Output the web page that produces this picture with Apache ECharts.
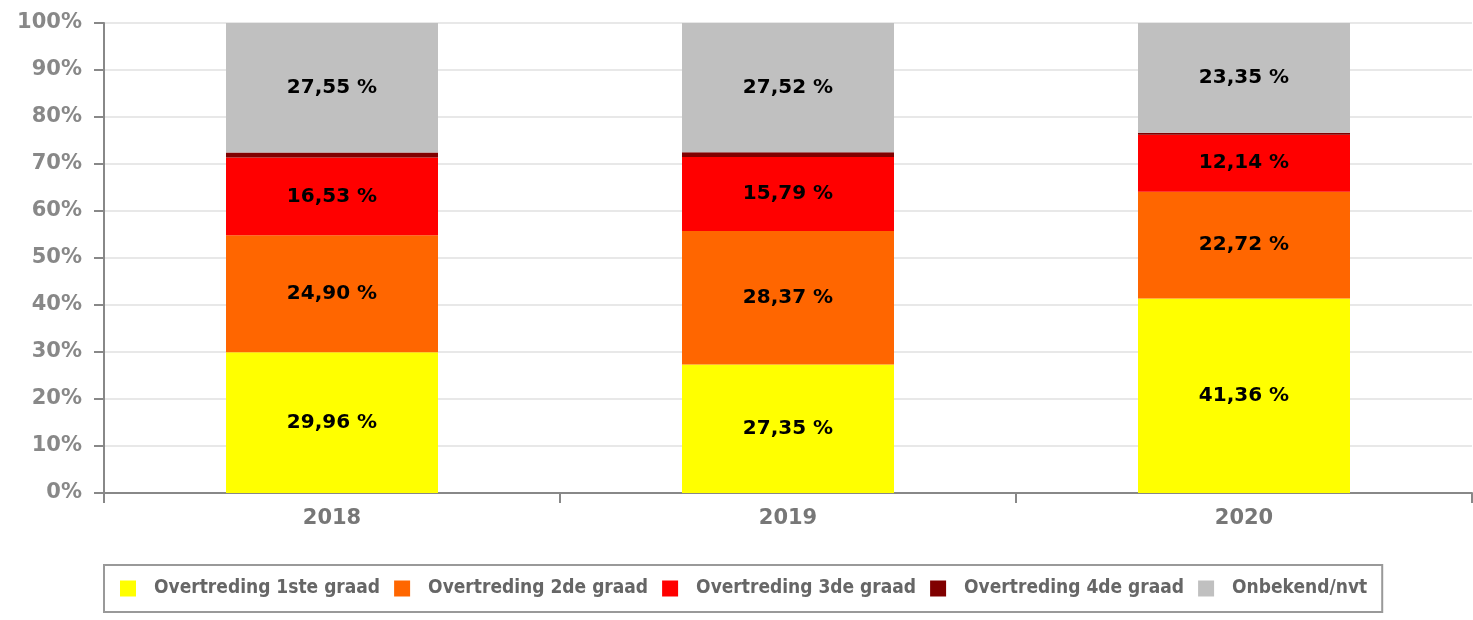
<!DOCTYPE html>
<html>
<head>
<meta charset="utf-8">
<script src="https://cdn.jsdelivr.net/npm/echarts@6/dist/echarts.min.js"></script>
<style>
  html, body { margin: 0; padding: 0; background: #fff; }
  #chart { width: 1473px; height: 620px; }
</style>
</head>
<body>
<div id="chart"></div>
<script>
// jaren en percentages per graad
const years = ["2018", "2019", "2020"];
const graad1 = [29.96, 27.35, 41.36];
const graad2 = [24.90, 28.37, 22.72];
const graad3 = [16.53, 15.79, 12.14];
const graad4 = [1.06, 0.97, 0.43];
const onbekend = [27.55, 27.52, 23.35];

const seriesNames = ["Overtreding 1ste graad", "Overtreding 2de graad", "Overtreding 3de graad", "Overtreding 4de graad", "Onbekend/nvt"];
const seriesColors = ["#ffff00", "#ff6600", "#ff0000", "#800000", "#c0c0c0"];

const chart = echarts.init(document.getElementById("chart"));

function pct(p) {
    return p.value.toFixed(2).replace(".", ",") + " %";
}

const valueSets = [graad1, graad2, graad3, graad4, onbekend];

chart.setOption({
    animation: false,
    grid: { left: 104, right: 1, top: 23, bottom: 127 },
    xAxis: {
        type: "category",
        data: years,
        axisLine: { lineStyle: { color: "#888", width: 2 } },
        axisTick: { show: true, length: 10, lineStyle: { color: "#888", width: 2 } },
        axisLabel: { color: "#777", fontFamily: "DejaVu Sans", fontWeight: "bold", fontSize: 21, margin: 15 }
    },
    yAxis: {
        type: "value",
        min: 0,
        max: 100,
        interval: 10,
        axisLine: { show: true, lineStyle: { color: "#888", width: 2 } },
        axisTick: { show: true, length: 10, lineStyle: { color: "#888", width: 2 } },
        axisLabel: { formatter: "{value}%", color: "#888", fontFamily: "DejaVu Sans", fontWeight: "bold", fontSize: 21, margin: 22 },
        splitLine: { lineStyle: { color: "#e8e8e8", width: 2 } }
    },
    legend: {
        left: 104,
        top: 565,
        itemWidth: 16,
        itemHeight: 16,
        itemGap: 14,
        icon: "rect",
        padding: [14, 15, 14, 16],
        borderColor: "#999",
        borderWidth: 2,
        textStyle: { color: "#666", fontFamily: "DejaVu Sans Condensed, Liberation Sans", fontWeight: "bold", fontSize: 19, padding: [0, 0, 0, 13] },
        data: seriesNames
    },
    series: valueSets.map((vals, i) => ({
        name: seriesNames[i],
        type: "bar",
        stack: "totaal",
        barWidth: 212,
        data: vals,
        itemStyle: { color: seriesColors[i] },
        label: {
            show: i !== 3,
            position: "inside",
            formatter: pct,
            color: "#000",
            fontFamily: "DejaVu Sans",
            fontWeight: "bold",
            fontSize: 20
        }
    }))
});
</script>
</body>
</html>
